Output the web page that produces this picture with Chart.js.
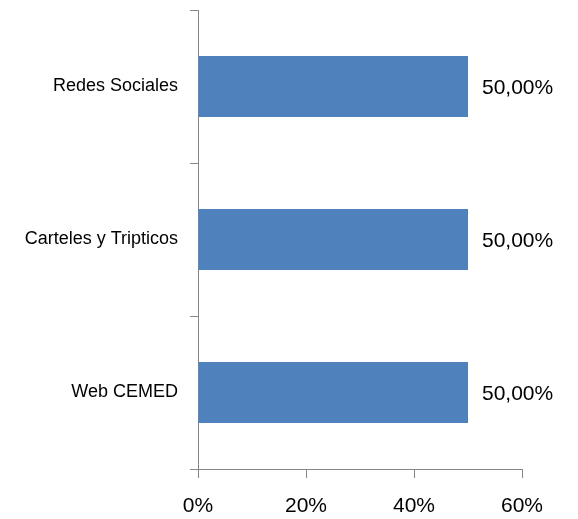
<!DOCTYPE html>
<html>
<head>
<meta charset="utf-8">
<script src="https://cdn.jsdelivr.net/npm/chart.js@4"></script>
<style>
	html, body { margin: 0; padding: 0; background: #ffffff; }
	#wrap { width: 578px; height: 519px; }
</style>
</head>
<body>
<div id="wrap"><canvas id="chart" width="578" height="519"></canvas></div>
<script>
(function () {
	'use strict';

	var categories = ['Redes Sociales', 'Carteles y Tripticos', 'Web CEMED'];
	var values = [50, 50, 50];
	var valueLabels = ['50,00%', '50,00%', '50,00%'];
	var tickValues = [0, 20, 40, 60];

	var axisColor = '#868686';
	var fontFamily = '"Liberation Sans", Arial, sans-serif';

	var valueLabelPlugin = {
		id: 'valueLabels',
		afterDatasetsDraw: function (chart) {
			var ctx = chart.ctx;
			var meta = chart.getDatasetMeta(0);
			ctx.save();
			ctx.font = '21px ' + fontFamily;
			ctx.fillStyle = '#000000';
			ctx.textAlign = 'left';
			ctx.textBaseline = 'middle';
			meta.data.forEach(function (bar, i) {
				ctx.fillText(valueLabels[i], bar.x + 14, bar.y + 2);
			});
			ctx.restore();
		},
	};

	new Chart(document.getElementById('chart'), {
		type: 'bar',
		data: {
			labels: categories,
			datasets: [
				{
					data: values,
					backgroundColor: '#4f81bd',
					borderWidth: 0,
					barPercentage: 0.4,
					categoryPercentage: 1,
				},
			],
		},
		options: {
			indexAxis: 'y',
			responsive: false,
			animation: false,
			layout: {
				padding: { top: 10, right: 56, left: 0, bottom: 0 },
			},
			plugins: {
				legend: { display: false },
				tooltip: { enabled: false },
			},
			scales: {
				x: {
					min: 0,
					max: 60,
					afterFit: function (scale) {
						scale.height = 50;
					},
					afterBuildTicks: function (scale) {
						scale.ticks = tickValues.map(function (v) {
							return { value: v };
						});
					},
					grid: {
						drawOnChartArea: false,
						drawTicks: true,
						tickLength: 9,
						color: axisColor,
					},
					border: { color: axisColor, width: 1 },
					ticks: {
						padding: 16,
						color: '#000000',
						font: { family: fontFamily, size: 21 },
						callback: function (value) {
							return value + '%';
						},
					},
				},
				y: {
					afterFit: function (scale) {
						scale.width = 198;
						scale.paddingTop = 0;
						scale.paddingBottom = 0;
					},
					grid: {
						drawOnChartArea: false,
						drawTicks: true,
						tickLength: 8,
						color: axisColor,
						offset: true,
					},
					border: { color: axisColor, width: 1 },
					ticks: {
						padding: 12,
						color: '#000000',
						font: { family: fontFamily, size: 18 },
					},
				},
			},
		},
		plugins: [valueLabelPlugin],
	});
})();
</script>
</body>
</html>
